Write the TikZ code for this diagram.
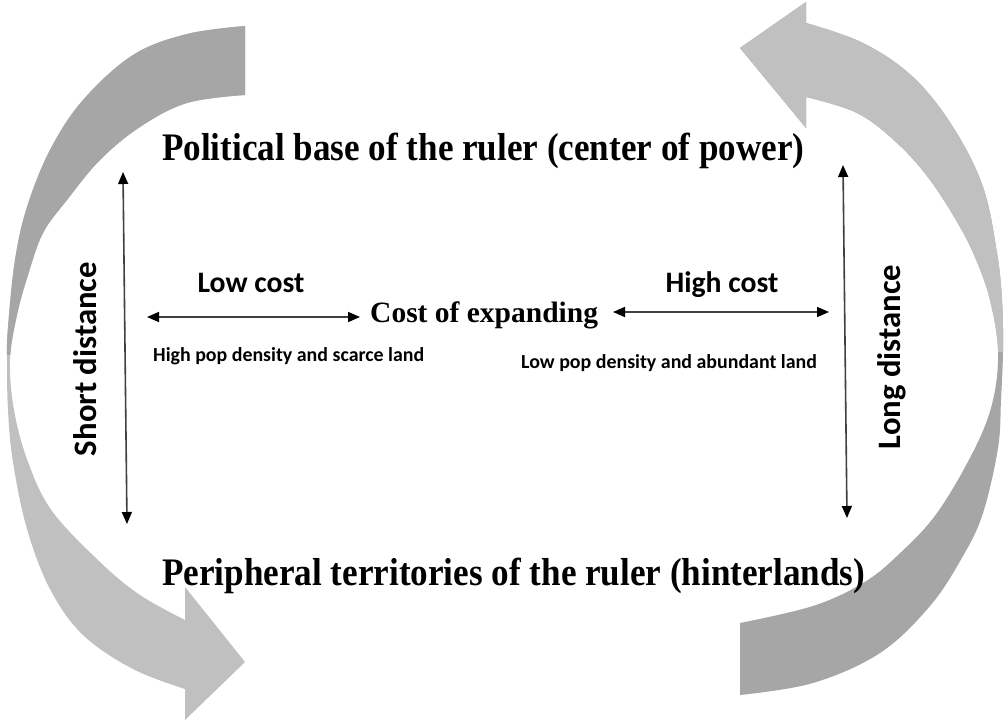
\documentclass[tikz,border=0pt]{standalone}
\usepackage{fontspec}
\setmainfont{Liberation Serif}
\newfontfamily\calibri{Carlito}
\usetikzlibrary{arrows.meta}
\definecolor{darkg}{HTML}{A6A6A6}
\definecolor{lightg}{HTML}{C0C0C0}
\definecolor{linec}{HTML}{404040}
\begin{document}
\begin{tikzpicture}[x=1pt,y=-1pt,
  dbl/.style={{Triangle[length=12pt,width=10pt,color=black]}-{Triangle[length=12pt,width=10pt,color=black]}, line width=1.6pt, draw=linec},
  title/.style={anchor=base west, inner sep=0pt},
  sans/.style={inner sep=0pt, font=\calibri\bfseries},
]
\useasboundingbox[fill=white] (0,0) rectangle (1006,722);

% left curved arrow
\fill[lightg, path picture={\fill[darkg] (0,0) rectangle (300,355);}]
  (245,26) -- plot[smooth,tension=0.6] coordinates {(245,95) (187,103) (140,127) (100,160) (67,200) (43,233) (28,275) (17,315) (10,360) (14,410) (28,462) (52,511) (100,562) (140,595) (185,620)}
  -- (185,587) -- (245,662) -- (185,720)
  -- plot[smooth,tension=0.6] coordinates {(185,689) (133,669) (83,635) (50,589) (27,529) (13,462) (8,410) (7,360) (8,327) (15,260) (27,207) (50,150) (83,100) (133,55) (187,34) (245,26)}
  -- cycle;

% right curved arrow
\fill[darkg, path picture={\fill[lightg] (700,0) rectangle (1006,352);}]
  (740,695) -- plot[smooth,tension=0.6] coordinates {(740,623) (813,606) (863,583) (897,556) (937,513) (975,448) (993,400) (998,350) (990,300) (977,262) (960,227) (930,180) (897,143) (857,113) (806,97)}
  -- (806,128) -- (740,48) -- (806,2)
  -- plot[smooth,tension=0.6] coordinates {(806,23) (863,43) (913,77) (953,127) (983,187) (997,253) (1002,300) (1003,350) (1001,400) (998,448) (983,513) (963,556) (930,606) (880,653) (813,683) (740,695)}
  -- cycle;

% titles
\node[title] (top) at (162,161) {\resizebox{642pt}{\height}{\fontsize{39pt}{42pt}\selectfont\bfseries Political base of the ruler (center of power)}};
\node[title] (bottom) at (162,585) {\resizebox{703pt}{\height}{\fontsize{39pt}{42pt}\selectfont\bfseries Peripheral territories of the ruler (hinterlands)}};

% centre text
\node[title] (cost) at (370,322) {\fontsize{29.5pt}{32pt}\selectfont\bfseries Cost of expanding};

\node[sans, anchor=base] (low) at (251,292) {\fontsize{29.7pt}{32pt}\selectfont Low cost};
\node[sans, anchor=base] (high) at (722,292) {\fontsize{29.7pt}{32pt}\selectfont High cost};

\node[sans, anchor=base west] (lowd) at (153,361) {\fontsize{19.9pt}{22pt}\selectfont High pop density and scarce land};
\node[sans, anchor=base west] (highd) at (521,368) {\fontsize{19.9pt}{22pt}\selectfont Low pop density and abundant land};

\node[sans, anchor=base, rotate=90] (short) at (96,359) {\fontsize{32.7pt}{34pt}\selectfont Short distance};
\node[sans, anchor=base, rotate=90] (long) at (900,357) {\fontsize{32.7pt}{34pt}\selectfont Long distance};

% straight double arrows
\coordinate (sT) at (123,172);
\coordinate (sB) at (127,524);
\coordinate (lT) at (843,165);
\coordinate (lB) at (847,518);
\coordinate (hL1) at (147,317);
\coordinate (hL2) at (360,317);
\coordinate (hR1) at (613,312);
\coordinate (hR2) at (829,312);
\draw[dbl] (sT) -- (sB);
\draw[dbl] (lT) -- (lB);
\draw[dbl] (hL1) -- (hL2);
\draw[dbl] (hR1) -- (hR2);
\end{tikzpicture}
\end{document}
